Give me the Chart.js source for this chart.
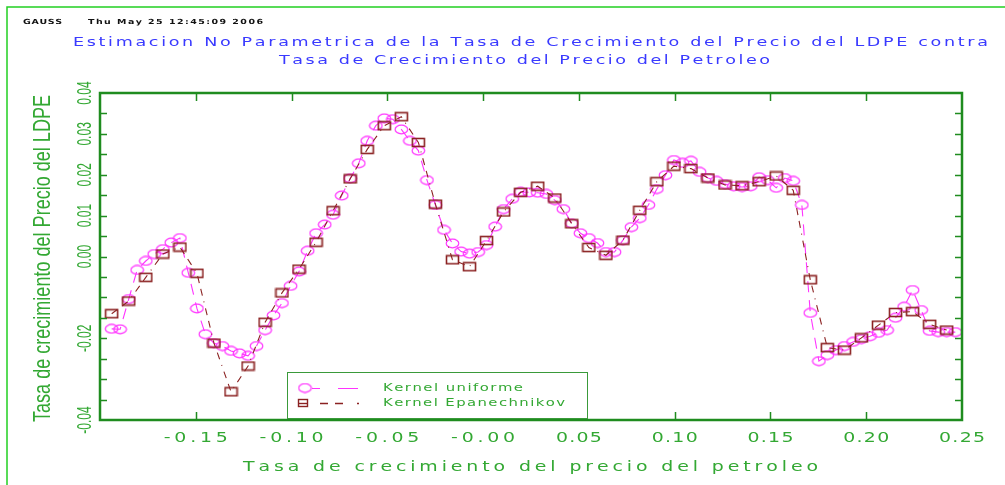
<!DOCTYPE html>
<html><head><meta charset="utf-8">
<script src="https://cdn.jsdelivr.net/npm/chart.js@4"></script>
<style>html,body{margin:0;padding:0;background:#fff;}canvas{display:block;}</style>
</head><body>
<canvas id="c" width="1005" height="485"></canvas>
<script>
// ---- data ----
const headerLeft = 'GAUSS';
const headerDate = 'Thu May 25 12:45:09 2006';
const titleLine1 = 'Estimacion No Parametrica de la Tasa de Crecimiento del Precio del LDPE contra';
const titleLine2 = 'Tasa de Crecimiento del Precio del Petroleo';
const xAxisTitle = 'Tasa de crecimiento del precio del petroleo';
const yAxisTitle = 'Tasa de crecimiento del Precio del LDPE';
const xTickValues = [-0.15, -0.10, -0.05, 0.00, 0.05, 0.10, 0.15, 0.20, 0.25];
const xTickLabels = ['-0.15', '-0.10', '-0.05', '-0.00', '0.05', '0.10', '0.15', '0.20', '0.25'];
const yTickValues = [-0.04, -0.02, 0.00, 0.01, 0.02, 0.03, 0.04];
const yTickLabels = ['-0.04', '-0.02', '0.00', '0.01', '0.02', '0.03', '0.04'];
const seriesNames = ['Kernel uniforme', 'Kernel Epanechnikov'];

const uniformeX = [-0.1939,-0.1895,-0.1850,-0.1806,-0.1761,-0.1717,-0.1672,-0.1628,-0.1583,-0.1539,
 -0.1494,-0.1450,-0.1405,-0.1361,-0.1316,-0.1272,-0.1227,-0.1183,-0.1138,-0.1094,
 -0.1050,-0.1005,-0.0961,-0.0916,-0.0872,-0.0827,-0.0783,-0.0738,-0.0694,-0.0649,
 -0.0605,-0.0560,-0.0516,-0.0471,-0.0427,-0.0382,-0.0338,-0.0293,-0.0249,-0.0204,
 -0.0160,-0.0115,-0.0071,-0.0026,0.0018,0.0063,0.0107,0.0152,0.0196,0.0241,
 0.0285,0.0330,0.0374,0.0419,0.0463,0.0508,0.0552,0.0597,0.0641,0.0686,
 0.0730,0.0774,0.0818,0.0863,0.0907,0.0952,0.0996,0.1041,0.1085,0.1130,
 0.1174,0.1219,0.1263,0.1308,0.1352,0.1397,0.1441,0.1486,0.1530,0.1575,
 0.1619,0.1664,0.1708,0.1753,0.1797,0.1842,0.1886,0.1931,0.1975,0.2020,
 0.2064,0.2109,0.2153,0.2198,0.2242,0.2287,0.2331,0.2376,0.2420,0.2465];
const uniformeY = [-0.0177,-0.0178,-0.0104,-0.0033,-0.0011,0.0006,0.0018,0.0034,0.0045,-0.0040,
 -0.0127,-0.0190,-0.0212,-0.0219,-0.0231,-0.0237,-0.0243,-0.0219,-0.0180,-0.0144,
 -0.0114,-0.0072,-0.0037,0.0014,0.0057,0.0078,0.0102,0.0149,0.0191,0.0228,
 0.0283,0.0320,0.0338,0.0336,0.0311,0.0283,0.0259,0.0187,0.0126,0.0065,
 0.0032,0.0012,0.0007,0.0011,0.0028,0.0073,0.0116,0.0141,0.0158,0.0157,
 0.0156,0.0153,0.0138,0.0116,0.0081,0.0057,0.0045,0.0033,0.0011,0.0011,
 0.0040,0.0072,0.0094,0.0126,0.0165,0.0199,0.0236,0.0229,0.0234,0.0207,
 0.0192,0.0185,0.0177,0.0172,0.0170,0.0172,0.0194,0.0187,0.0168,0.0192,
 0.0185,0.0126,-0.0138,-0.0256,-0.0241,-0.0229,-0.0219,-0.0209,-0.0202,-0.0195,
 -0.0187,-0.0180,-0.0150,-0.0123,-0.0082,-0.0131,-0.0182,-0.0185,-0.0185,-0.0185];

const epanX = [-0.1939,-0.1850,-0.1761,-0.1672,-0.1583,-0.1494,-0.1405,-0.1316,-0.1227,-0.1138,
 -0.1050,-0.0961,-0.0872,-0.0783,-0.0694,-0.0605,-0.0516,-0.0427,-0.0338,-0.0249,
 -0.0160,-0.0071,0.0018,0.0107,0.0196,0.0285,0.0374,0.0463,0.0552,0.0641,
 0.0730,0.0818,0.0907,0.0996,0.1085,0.1174,0.1263,0.1352,0.1441,0.1530,
 0.1619,0.1708,0.1797,0.1886,0.1975,0.2064,0.2153,0.2242,0.2331,0.2420];
const epanY = [-0.0140,-0.0109,-0.0051,0.0006,0.0023,-0.0041,-0.0212,-0.0331,-0.0268,-0.0161,
 -0.0089,-0.0031,0.0035,0.0112,0.0190,0.0262,0.0320,0.0342,0.0279,0.0128,
 -0.0008,-0.0025,0.0039,0.0109,0.0157,0.0172,0.0143,0.0080,0.0022,0.0003,
 0.0040,0.0113,0.0183,0.0221,0.0215,0.0192,0.0175,0.0173,0.0183,0.0197,
 0.0162,-0.0057,-0.0223,-0.0229,-0.0199,-0.0168,-0.0137,-0.0135,-0.0166,-0.0180];

// ---- styles ----
const MAGENTA = '#ff33ff';
const DARKRED = '#8b2222';
const BOXGREEN = '#1f8c1f';
const TEXTGREEN = '#33a833';
const BLUE = '#3a3aff';
const uniDash = [11, 8];
const epaDash = [7, 6, 7, 6, 1, 6];
const WIDE = 1.35; // horizontal stretch of the plotter-style glyphs

function makeEllipse() {
  const c = document.createElement('canvas'); c.width = 15; c.height = 11;
  const g = c.getContext('2d'); g.strokeStyle = MAGENTA; g.lineWidth = 1.2;
  g.beginPath(); g.ellipse(7.5, 5.5, 6.3, 4.3, 0, 0, 2 * Math.PI); g.stroke();
  return c;
}
function makeRect() {
  const c = document.createElement('canvas'); c.width = 15; c.height = 11;
  const g = c.getContext('2d'); g.strokeStyle = DARKRED; g.lineWidth = 1.6;
  g.strokeRect(1.5, 1.5, 12, 8);
  return c;
}
const ellImg = makeEllipse();
const rectImg = makeRect();

function spacedText(ctx, text, x0, x1, y, font, color, hs) {
  hs = hs || WIDE;
  ctx.font = font; ctx.fillStyle = color; ctx.textBaseline = 'middle'; ctx.textAlign = 'left';
  const chars = Array.from(text);
  const ws = chars.map(ch => ctx.measureText(ch).width * hs);
  const sum = ws.reduce((a, b) => a + b, 0);
  const gap = chars.length > 1 ? (x1 - x0 - sum) / (chars.length - 1) : 0;
  let x = x0;
  chars.forEach((ch, i) => {
    ctx.save(); ctx.translate(x, y); ctx.scale(hs, 1); ctx.fillText(ch, 0, 0); ctx.restore();
    x += ws[i] + gap;
  });
}
function spacedCentered(ctx, text, cx, width, y, font, color) {
  spacedText(ctx, text, cx - width / 2, cx + width / 2, y, font, color);
}

const decor = {
  id: 'decor',
  beforeDraw(chart) {
    const ctx = chart.ctx;
    ctx.save(); ctx.fillStyle = '#ffffff'; ctx.fillRect(0, 0, chart.width, chart.height); ctx.restore();
  },
  afterDraw(chart) {
    const ctx = chart.ctx;
    const a = chart.chartArea;
    const xs = chart.scales.x, ys = chart.scales.y;
    ctx.save();
    // outer frame
    ctx.strokeStyle = '#22d022'; ctx.lineWidth = 1.5;
    ctx.beginPath(); ctx.moveTo(7, 485); ctx.lineTo(7, 7); ctx.lineTo(1005, 7); ctx.stroke();
    // header
    spacedText(ctx, headerLeft, 23, 62, 22, 'bold 7px "DejaVu Sans"', '#111');
    spacedText(ctx, headerDate, 88, 263, 22, 'bold 7px "DejaVu Sans"', '#111');
    // titles
    spacedText(ctx, titleLine1, 73, 988, 43, '13px "DejaVu Sans"', BLUE);
    spacedText(ctx, titleLine2, 279, 770, 61, '13px "DejaVu Sans"', BLUE);
    // plot box
    ctx.strokeStyle = BOXGREEN; ctx.lineWidth = 2.5;
    ctx.strokeRect(a.left, a.top, a.right - a.left, a.bottom - a.top);
    // y minor ticks (left & right), every 0.005
    ctx.lineWidth = 1.5;
    for (let v = -0.035; v < 0.0399; v += 0.005) {
      const py = Math.round(ys.getPixelForValue(v)) + 0.5;
      ctx.beginPath();
      ctx.moveTo(a.left, py); ctx.lineTo(a.left + 7, py);
      ctx.moveTo(a.right, py); ctx.lineTo(a.right - 7, py);
      ctx.stroke();
    }
    // x ticks (bottom & top)
    xTickValues.forEach(v => {
      if (v >= 0.2499) return;
      const px = Math.round(xs.getPixelForValue(v)) + 0.5;
      ctx.beginPath();
      ctx.moveTo(px, a.bottom); ctx.lineTo(px, a.bottom - 8);
      ctx.moveTo(px, a.top); ctx.lineTo(px, a.top + 8);
      ctx.stroke();
    });
    // x tick labels
    xTickValues.forEach((v, i) => {
      const px = xs.getPixelForValue(v);
      const lab = xTickLabels[i];
      const w = lab.startsWith('-') ? 64 : 46;
      spacedCentered(ctx, lab, px, w, 438, '14px "DejaVu Sans"', TEXTGREEN);
    });
    // x title
    spacedText(ctx, xAxisTitle, 243, 818, 467, '14px "DejaVu Sans"', TEXTGREEN);
    // y tick labels (rotated, condensed)
    yTickValues.forEach((v, i) => {
      const py = ys.getPixelForValue(v);
      ctx.save();
      ctx.translate(91, py);
      ctx.rotate(-Math.PI / 2);
      ctx.scale(0.6, 1);
      ctx.font = '20px "Liberation Sans"'; ctx.fillStyle = TEXTGREEN;
      ctx.textAlign = 'center'; ctx.textBaseline = 'alphabetic';
      ctx.fillText(yTickLabels[i], 0, 0);
      ctx.restore();
    });
    // y title
    ctx.save();
    ctx.translate(50, (a.top + a.bottom) / 2 + 2);
    ctx.rotate(-Math.PI / 2);
    ctx.font = '24px "Liberation Sans"';
    const tw = ctx.measureText(yAxisTitle).width;
    ctx.scale(327 / tw, 1);
    ctx.fillStyle = TEXTGREEN; ctx.textAlign = 'center'; ctx.textBaseline = 'alphabetic';
    ctx.fillText(yAxisTitle, 0, 0);
    ctx.restore();
    // legend
    ctx.fillStyle = '#ffffff';
    ctx.fillRect(287, 372, 300, 46);
    ctx.strokeStyle = '#3a9a3a'; ctx.lineWidth = 1;
    ctx.strokeRect(287.5, 372.5, 300, 46);
    // row 1: uniforme
    ctx.drawImage(ellImg, 305 - 7.5, 388 - 5.5);
    ctx.strokeStyle = MAGENTA; ctx.lineWidth = 1.2;
    ctx.beginPath(); ctx.moveTo(312, 388.5); ctx.lineTo(320, 388.5);
    ctx.moveTo(338, 388.5); ctx.lineTo(358, 388.5); ctx.stroke();
    spacedText(ctx, seriesNames[0], 383, 523, 388, '11px "DejaVu Sans"', TEXTGREEN);
    // row 2: Epanechnikov
    ctx.strokeStyle = DARKRED; ctx.lineWidth = 1.4;
    ctx.strokeRect(298.5, 399.5, 9, 7);
    ctx.beginPath(); ctx.moveTo(298.5, 403.5); ctx.lineTo(307.5, 403.5); ctx.stroke();
    ctx.beginPath(); ctx.moveTo(320, 403.5); ctx.lineTo(328, 403.5);
    ctx.moveTo(335, 403.5); ctx.lineTo(343, 403.5);
    ctx.moveTo(357, 403.5); ctx.lineTo(359, 403.5); ctx.stroke();
    spacedText(ctx, seriesNames[1], 383, 565, 403, '11px "DejaVu Sans"', TEXTGREEN);
    ctx.restore();
  }
};

const toPts = (xs, ys) => xs.map((x, i) => ({ x: x, y: ys[i] }));

new Chart(document.getElementById('c'), {
  type: 'scatter',
  data: {
    datasets: [
      { label: seriesNames[1], data: toPts(epanX, epanY), showLine: true,
        borderColor: DARKRED, backgroundColor: DARKRED, borderWidth: 1.1, borderDash: epaDash,
        pointStyle: rectImg, pointRadius: 5, pointHoverRadius: 5, fill: false, tension: 0 },
      { label: seriesNames[0], data: toPts(uniformeX, uniformeY), showLine: true,
        borderColor: MAGENTA, backgroundColor: MAGENTA, borderWidth: 1.1, borderDash: uniDash,
        pointStyle: ellImg, pointRadius: 5, pointHoverRadius: 5, fill: false, tension: 0 }
    ]
  },
  options: {
    responsive: false,
    animation: false,
    devicePixelRatio: 1,
    layout: { padding: { left: 100, right: 43, top: 93, bottom: 65 } },
    scales: {
      x: { type: 'linear', min: -0.20, max: 0.25, display: false },
      y: { type: 'linear', min: -0.04, max: 0.04, display: false }
    },
    plugins: { legend: { display: false }, title: { display: false }, tooltip: { enabled: false } }
  },
  plugins: [decor]
});
</script>
</body></html>
